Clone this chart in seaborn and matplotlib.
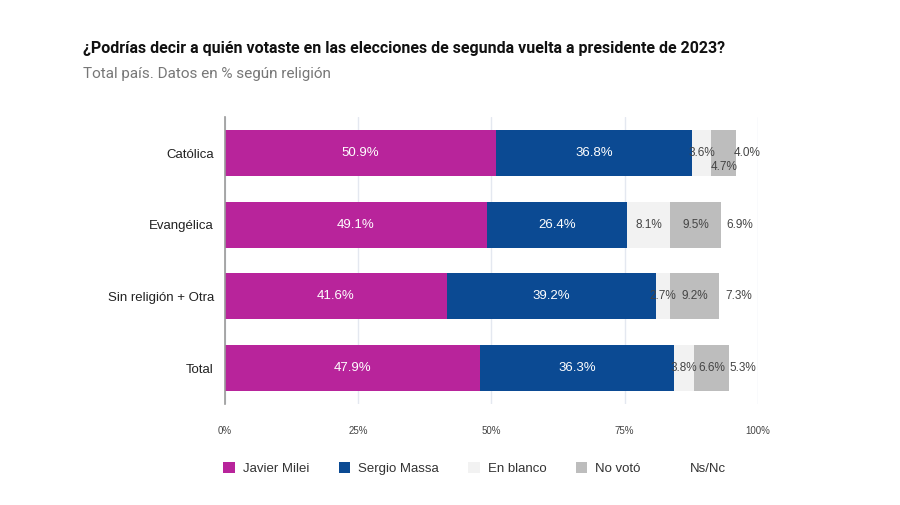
import seaborn as sns
import pandas as pd
import numpy as np
import matplotlib.pyplot as plt
from matplotlib.patches import Patch

sns.set_theme(style="white")
plt.rcParams['font.family'] = ['Liberation Sans', 'DejaVu Sans']

categories = ['Católica', 'Evangélica', 'Sin religión + Otra', 'Total']
series = ['Javier Milei', 'Sergio Massa', 'En blanco', 'No votó', 'Ns/Nc']
milei = [50.9, 49.1, 41.6, 47.9]
massa = [36.8, 26.4, 39.2, 36.3]
blanco = [3.6, 8.1, 2.7, 3.8]
no_voto = [4.7, 9.5, 9.2, 6.6]
nsnc = [4.0, 6.9, 7.3, 5.3]

colors = ['#B8249B', '#0B4A93', '#F2F2F2', '#BDBDBD', 'none']
text_colors = ['white', 'white', '#444444', '#444444', '#444444']

df = pd.DataFrame({'Categoria': categories, 'Javier Milei': milei, 'Sergio Massa': massa,
                   'En blanco': blanco, 'No votó': no_voto, 'Ns/Nc': nsnc})
cum = df[series].cumsum(axis=1)

fig = plt.figure(figsize=(9, 5.05), dpi=100)
ax = fig.add_axes([0.25, 0.2, 0.592, 0.568])

# draw cumulative totals from the back so the first series sits on top
for i in range(len(series) - 2, -1, -1):
    s = series[i]
    sns.barplot(x=cum[s], y=df['Categoria'], color=colors[i], orient='h',
                width=0.64, ax=ax, saturation=1, linewidth=0, zorder=2)

# value labels
for i, s in enumerate(series):
    for j in range(len(categories)):
        v = df[s][j]
        center = cum[s][j] - v / 2
        dy = 0
        if categories[j] == 'Católica' and s == 'No votó':
            dy = 0.2
        size = 9.5 if i < 2 else 8.5
        ax.text(center, j + dy, f'{v:.1f}%', ha='center', va='center',
                color=text_colors[i], fontsize=size, zorder=3)

ax.set_xlim(0, 100)
ax.set_xticks([0, 25, 50, 75, 100])
ax.set_xticklabels(['0%', '25%', '50%', '75%', '100%'], fontsize=7, color='#444444')
ax.tick_params(axis='x', length=0, pad=16)
ax.tick_params(axis='y', length=0, labelsize=9.5, labelcolor='#222222', pad=8)
ax.set_xlabel('')
ax.set_ylabel('')
ax.xaxis.grid(True, color='#E4E8F0', linewidth=1, zorder=0)
ax.set_axisbelow(True)
for sp in ['top', 'right', 'bottom']:
    ax.spines[sp].set_visible(False)
ax.spines['left'].set_color('#999999')
ax.spines['left'].set_linewidth(1.2)
ax.spines['left'].set_zorder(4)

handles = [Patch(facecolor=c, edgecolor='none') for c in colors]
fig.legend(handles, series, loc='center left', bbox_to_anchor=(0.235, 0.073), ncol=5,
           frameon=False, fontsize=9.5, handlelength=0.9, handleheight=0.9,
           columnspacing=2.2, handletextpad=0.6, labelcolor='#333333')

fig.text(0.092, 0.895, '¿Podrías decir a quién votaste en las elecciones de segunda vuelta a presidente de 2023?',
         fontsize=11.5, fontweight='bold', color='#111111', family=['Roboto', 'DejaVu Sans'])
fig.text(0.092, 0.845, 'Total país. Datos en % según religión', fontsize=11, color='#777777',
         family=['Roboto', 'DejaVu Sans'])

fig.savefig('out.png', dpi=100)
